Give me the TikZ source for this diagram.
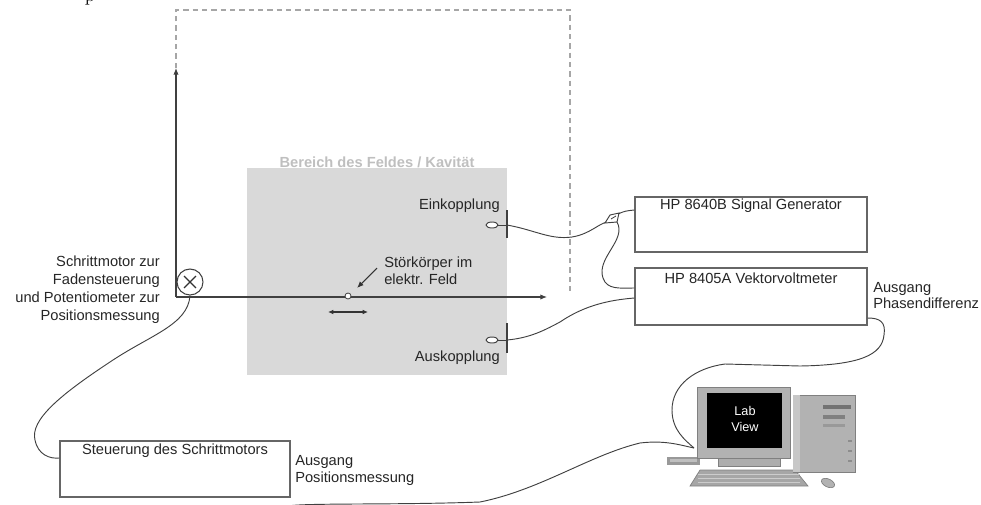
\documentclass[tikz,border=0pt]{standalone}
\usepackage{fontspec}
\setsansfont{Liberation Sans}
\usetikzlibrary{arrows.meta,shapes.geometric,calc}
\begin{document}
\begin{tikzpicture}[x=0.75pt,y=-0.75pt,
  txt/.style={font=\sffamily\fontsize{11}{13.5}\selectfont, inner sep=0pt, text=black!85},
  devbox/.style={draw=black!60, line width=1pt, fill=white, inner sep=0pt},
  cable/.style={draw=black!75, line width=0.7pt},
  axisline/.style={draw=black!75, line width=0.8pt, -{Latex[length=5pt,width=4pt]}},
  probe/.style={ellipse, draw=black!75, line width=0.7pt, fill=white, minimum width=9pt, minimum height=4.5pt, inner sep=0pt},
  frame/.style={draw=black!35, line width=0.8pt, dash pattern=on 4pt off 3pt},
  pcpart/.style={fill=black!35, draw=black!50, line width=0.5pt},
]
\useasboundingbox (0,0) rectangle (981,504);

% descender of a letter from the line above
\node[anchor=base, font=\fontsize{14}{16}\selectfont] (pfrag) at (90,1) {p};

% field region (cavity)
\node[fill=black!15, minimum width=195pt, minimum height=155.25pt, inner sep=0pt, anchor=north west] (field) at (247,168) {};
\node[txt, font=\sffamily\bfseries\fontsize{11}{13.5}\selectfont, text=black!25, anchor=base] (fieldlbl) at (377,167) {Bereich des Feldes / Kavität};

% dashed frame of the travel range
\coordinate (fr1) at (176,68);
\coordinate (fr2) at (176,10);
\coordinate (fr3) at (570,10);
\coordinate (fr4) at (570,292);
\draw[frame] (fr1) -- (fr2) -- (fr3) -- (fr4);

% axes and stepper motor
\coordinate (origin) at (176,297);
\coordinate (ytip) at (176,68);
\coordinate (xtip) at (547,297);
\draw[axisline] (origin) -- (ytip);
\draw[axisline] (origin) -- (xtip);
\node[circle, draw=black!75, line width=0.8pt, fill=white, minimum size=19.5pt, inner sep=0pt] (motor) at (190,282) {};
\draw[black!80, line width=1pt] ($(motor)!0.62!(motor.45)$) -- ($(motor)!0.62!(motor.225)$);
\draw[black!80, line width=1pt] ($(motor)!0.62!(motor.135)$) -- ($(motor)!0.62!(motor.315)$);
\node[txt, align=right, anchor=east] (motorlbl) at (160,290) {Schrittmotor zur\\Fadensteuerung\\und Potentiometer zur\\Positionsmessung};

% perturbation body on the thread
\node[circle, draw=black!75, fill=white, line width=0.6pt, minimum size=4.5pt, inner sep=0pt] (bead) at (348,296) {};
\coordinate (ptrA) at (377,268);
\coordinate (ptrB) at (357,288);
\draw[black!80, line width=0.8pt, -{Latex[length=5pt,width=4pt]}] (ptrA) -- (ptrB);
\coordinate (mvL) at (328,312);
\coordinate (mvR) at (368,312);
\draw[black!80, line width=0.8pt, {Latex[length=4pt,width=3.5pt]}-{Latex[length=4pt,width=3.5pt]}] (mvL) -- (mvR);
\node[txt, align=left, anchor=west, font=\sffamily\fontsize{11}{12.75}\selectfont] (beadlbl) at (384,271) {Störkörper im\\elektr. Feld};

% coupling probes
\node[probe] (einloop) at (492,225) {};
\coordinate (eintick) at (507,225);
\coordinate (eintickT) at (507,210);
\coordinate (eintickB) at (507,238);
\draw[black!75, line width=0.7pt] (einloop.east) -- (eintick);
\draw[black!75, line width=0.8pt] (eintickT) -- (eintickB);
\node[txt, anchor=east] (einlbl) at (500,206) {Einkopplung};

\node[probe] (ausloop) at (492,340) {};
\coordinate (austick) at (507,340);
\coordinate (austickT) at (507,323);
\coordinate (austickB) at (507,353);
\draw[black!75, line width=0.7pt] (ausloop.east) -- (austick);
\draw[black!75, line width=0.8pt] (austickT) -- (austickB);
\node[txt, anchor=east] (auslbl) at (500,358) {Auskopplung};

% instruments
\node[devbox, minimum width=174pt, minimum height=41.25pt] (gen) at (751,224.5) {};
\node[txt, anchor=center] (gentxt) at (751,206) {HP 8640B Signal Generator};
\node[devbox, minimum width=174pt, minimum height=42.75pt] (vvm) at (751,296.5) {};
\node[txt, anchor=center] (vvmtxt) at (751,278) {HP 8405A Vektorvoltmeter};
\node[txt, align=left, anchor=west, font=\sffamily\fontsize{11}{11.5}\selectfont] (phaselbl) at (873,295.5) {Ausgang\\Phasendifferenz};

\node[devbox, minimum width=172.5pt, minimum height=42pt] (ctrl) at (175,469) {};
\node[txt, anchor=center] (ctrltxt) at (175,451) {Steuerung des Schrittmotors};
\node[txt, align=left, anchor=west, font=\sffamily\fontsize{11}{12.75}\selectfont] (poslbl) at (295,470.5) {Ausgang\\Positionsmessung};

% computer running LabView
\coordinate (pcin) at (694,448);
\fill[black!40] (667,457) rectangle (700,465);
\fill[black!25] (670,459) rectangle (697,462);
\draw[pcpart, fill=black!32] (718,456) rectangle (780,466);
\draw[pcpart, fill=black!35] (700,470) -- (795,470) -- (808,486) -- (690,486) -- cycle;
\foreach \yy in {474,478,482} \draw[black!20, line width=0.6pt] (698,\yy) -- (800,\yy);
\draw[pcpart, fill=black!30] (697,387) rectangle (790,458);
\fill[black] (707,393) rectangle (782,448);
\node[txt, text=white, align=center, font=\sffamily\fontsize{9.5}{12.5}\selectfont] (lvtxt) at (745,419) {Lab\\View};
\draw[pcpart, fill=black!30] (793,395) rectangle (855,472);
\fill[black!22] (793,395) rectangle (800,472);
\fill[black!55] (823,405) rectangle (851,409);
\fill[black!50] (823,415) rectangle (845,419);
\fill[black!40] (823,424) rectangle (845,427);
\foreach \yy in {440,450,460} \fill[black!45] (848,\yy) rectangle (852,\yy+2);
\draw[pcpart, fill=black!30, rotate around={-25:(828,483)}] (828,483) ellipse (7 and 4);

% cables
\draw[cable] (motor.south) .. controls (188,325) and (150,335) .. (110,362)
  .. controls (60,395) and (30,420) .. (35,440)
  .. controls (38,455) and (50,459) .. (ctrl.west |- 0,458);
\draw[cable] (ctrl.south east) ++(0,-6pt) .. controls (310,503) and (400,505) .. (480,502)
  .. controls (540,490) and (590,455) .. (640,443)
  .. controls (665,440) and (680,445) .. (pcin);
\draw[cable] (vvm.east |- 0,318) .. controls (880,318) and (886,322) .. (884,335)
  .. controls (882,355) and (860,365) .. (800,366) -- (725,364)
  .. controls (695,368) and (672,385) .. (672,410)
  .. controls (672,430) and (685,440) .. (pcin);

% RF lines with plug
\coordinate (plugA) at (607,222);
\coordinate (plugB) at (618,214);
\draw[cable] (eintick) .. controls (535,230) and (550,240) .. (572,237)
  .. controls (590,234) and (598,224) .. (plugA);
\draw[black!75, line width=0.7pt, fill=white] (605,223) -- (610,215) -- (619,213) -- (617,222) -- cycle;
\draw[black!75, line width=0.6pt] (611,219) -- (616,216);
\draw[cable] (plugB) .. controls (625,211) .. (gen.west |- 0,210);
\draw[cable] (617,222) .. controls (627,240) and (596,258) .. (603,278)
  .. controls (607,290) and (620,288) .. (vvm.west |- 0,288);
\draw[cable] (austick) .. controls (530,338) and (545,330) .. (560,322)
  .. controls (585,305) and (610,300) .. (vvm.west |- 0,298);

\end{tikzpicture}
\end{document}
